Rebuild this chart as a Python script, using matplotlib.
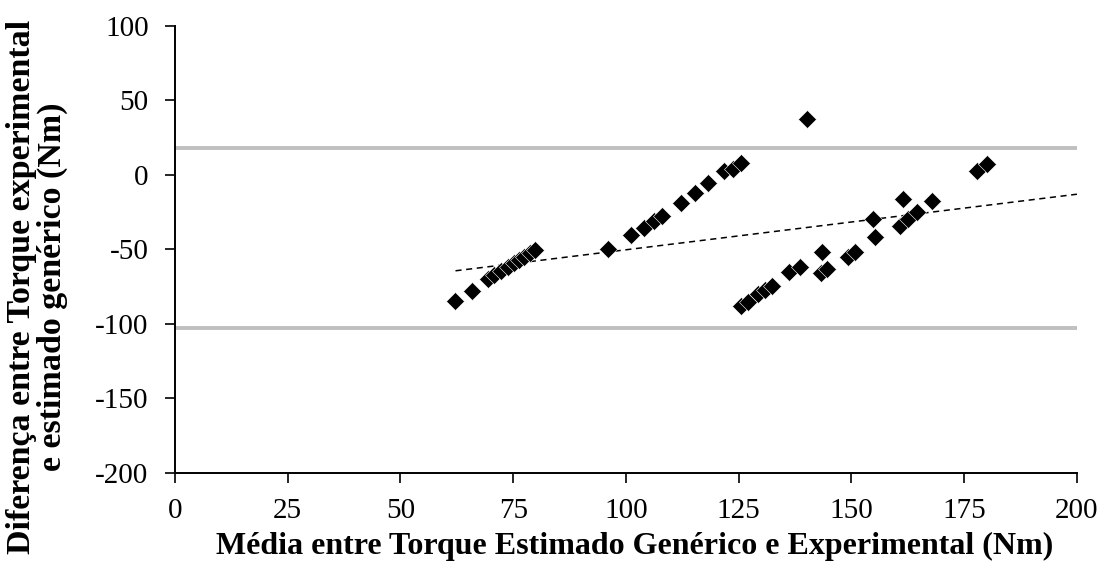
import numpy as np
import matplotlib.pyplot as plt

plt.rcParams['font.family'] = ['Liberation Serif', 'DejaVu Serif']
plt.rcParams['axes.unicode_minus'] = False

# média entre torque estimado genérico e experimental (Nm)
media = [62.2, 65.8, 69.3, 70.7, 72.2, 73.8, 75.1, 76.2, 77.5, 78.8, 79.9,
         96.1, 101.2, 103.9, 106.3, 108.1, 112.3, 115.4, 118.3, 121.8, 123.8, 125.4,
         140.2,
         125.4, 127.1, 129.3, 130.8, 132.4, 136.1, 138.6, 143.5, 143.3, 144.6,
         149.2, 150.8, 154.8, 155.3, 161.5, 160.8, 162.6, 164.6, 167.9,
         177.8, 180.1]
# diferença entre torque experimental e estimado genérico (Nm)
diferenca = [-84.6, -77.9, -69.8, -67.1, -64.4, -61.7, -59.1, -57.0, -55.0, -52.3, -50.3,
             -49.7, -40.3, -35.6, -30.9, -27.5, -18.8, -12.1, -5.4, 2.7, 4.0, 8.1,
             37.6,
             -87.9, -85.2, -79.9, -77.2, -74.5, -65.1, -61.7, -51.7, -65.5, -63.0,
             -55.0, -52.0, -29.5, -41.6, -16.1, -34.2, -29.5, -24.8, -17.4,
             2.7, 7.4]

# limites de concordância
lim_sup = 18.1
lim_inf = -102.7

x_ticks = [0, 25, 50, 75, 100, 125, 150, 175, 200]
y_ticks = [-200, -150, -100, -50, 0, 50, 100]

fig = plt.figure(figsize=(11.04, 5.83), dpi=100)
ax = fig.add_axes([0.1585, 0.1887, 0.817, 0.7667])

ax.axhline(lim_sup, color='#BFBFBF', lw=2.8, zorder=1)
ax.axhline(lim_inf, color='#BFBFBF', lw=2.8, zorder=1)

ax.plot(media, diferenca, 'D', color='black', ms=9.5, mec='white', mew=0.4, zorder=3)

# linha de tendência linear
a, b = np.polyfit(media, diferenca, 1)
xt = np.array([min(media), 200])
ax.plot(xt, a * xt + b, '--', color='black', lw=1.1, dashes=(4, 3), zorder=2)

ax.set_xlim(0, 200)
ax.set_ylim(-200, 100)
ax.set_xticks(x_ticks)
ax.set_yticks(y_ticks)
ax.tick_params(direction='out', length=7, width=1.2, labelsize=21)
ax.tick_params(axis='y', pad=12)
ax.tick_params(axis='x', pad=11)
for s in ['top', 'right']:
    ax.spines[s].set_visible(False)
for s in ['left', 'bottom']:
    ax.spines[s].set_linewidth(1.4)

fig.text(0.575, 0.062, 'Média entre Torque Estimado Genérico e Experimental (Nm)',
         fontsize=23, fontweight='bold', ha='center', va='center')
fig.text(0.0335, 0.508, 'Diferença entre Torque experimental\ne estimado genérico (Nm)',
         fontsize=24.5, fontweight='bold', ha='center', va='center',
         rotation=90, linespacing=0.95, multialignment='center')

fig.savefig('out.png', dpi=100)
